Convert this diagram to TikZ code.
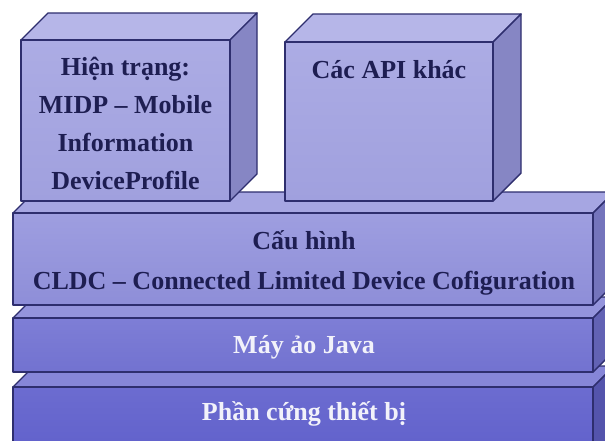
\documentclass[tikz,border=0pt]{standalone}
\usepackage{fontspec}
\setmainfont{Liberation Serif}
\definecolor{edgec}{HTML}{2E2E6E}
\definecolor{boxtop}{HTML}{B6B6E8}
\definecolor{boxfrontA}{HTML}{ACACE4}
\definecolor{boxfrontB}{HTML}{A0A0DE}
\definecolor{boxside}{HTML}{8686C4}
\definecolor{cfgtop}{HTML}{A6A6E2}
\definecolor{cfgfrontA}{HTML}{9E9EE0}
\definecolor{cfgfrontB}{HTML}{8E8ED8}
\definecolor{cfgside}{HTML}{7474BC}
\definecolor{jvmtop}{HTML}{9494DC}
\definecolor{jvmfrontA}{HTML}{7E7ED6}
\definecolor{jvmfrontB}{HTML}{7272D0}
\definecolor{jvmside}{HTML}{6262B4}
\definecolor{hwtop}{HTML}{8686D8}
\definecolor{hwfrontA}{HTML}{6C6CD0}
\definecolor{hwfrontB}{HTML}{5E5ECA}
\definecolor{hwside}{HTML}{5454AC}
\definecolor{darktext}{HTML}{1E1E52}
\definecolor{lighttext}{HTML}{F2F2FA}
\tikzset{
  edge/.style={draw=edgec, line width=1.4pt, line join=round},
  lbl/.style={font=\fontsize{26}{38}\selectfont\bfseries, align=center, inner sep=0pt},
}
% #1 x1, #2 y1 (front top), #3 x2, #4 y2 (front bottom), #5 depth, #6 top, #7 front top colour, #8 front bottom colour, #9 side
\newcommand{\mycuboid}[9]{%
  \filldraw[edge, fill=#6] (#1,#2) -- (#1+#5,#2-#5) -- (#3+#5,#2-#5) -- (#3,#2) -- cycle;
  \filldraw[edge, fill=#9] (#3,#2) -- (#3+#5,#2-#5) -- (#3+#5,#4-#5) -- (#3,#4) -- cycle;
  \shade[top color=#7, bottom color=#8] (#1,#2) rectangle (#3,#4);
  \draw[edge] (#1,#2) rectangle (#3,#4);
}
\begin{document}
\begin{tikzpicture}[x=1pt, y=-1pt]
  \useasboundingbox (0,0) rectangle (605,440);
  \fill[white] (0,0) rectangle (605,440);
  \begin{scope}
    \clip (0,0) rectangle (605,440);
    % hardware layer
    \mycuboid{13}{387}{593}{470}{21}{hwtop}{hwfrontA}{hwfrontB}{hwside}
    % JVM layer
    \mycuboid{13}{318}{593}{372}{21}{jvmtop}{jvmfrontA}{jvmfrontB}{jvmside}
    % configuration layer
    \mycuboid{13}{213}{593}{305}{21}{cfgtop}{cfgfrontA}{cfgfrontB}{cfgside}
    % profile boxes
    \mycuboid{21}{40}{230}{201}{27}{boxtop}{boxfrontA}{boxfrontB}{boxside}
    \mycuboid{285}{42}{493}{201}{28}{boxtop}{boxfrontA}{boxfrontB}{boxside}
  \end{scope}
  \node[lbl, text=darktext] (midp) at (125.5,123) {Hiện trạng:\\MIDP – Mobile\\Information\\DeviceProfile};
  \node[lbl, text=darktext] (api) at (389,70) {Các API khác};
  \node[lbl, text=darktext, font=\fontsize{26}{40}\selectfont\bfseries] (cfg) at (304,263) {Cấu hình\\CLDC – Connected Limited Device Cofiguration};
  \node[lbl, text=lighttext] (jvm) at (304,347) {Máy ảo Java};
  \node[lbl, text=lighttext] (hw) at (304,414) {Phần cứng thiết bị};
\end{tikzpicture}
\end{document}
